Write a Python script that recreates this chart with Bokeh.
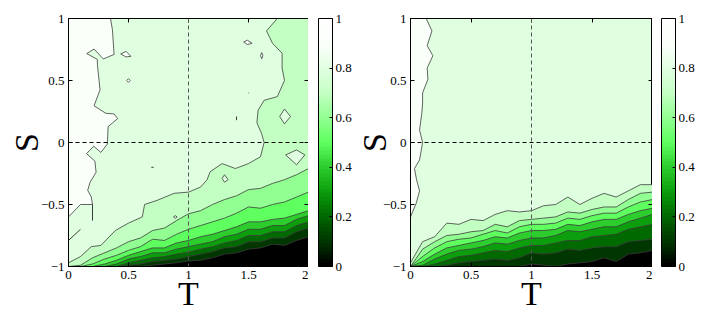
from bokeh.plotting import figure
from bokeh.models import (Range1d, Span, ColorBar, LinearColorMapper, FixedTicker,
                          CustomJSTickFormatter, LinearAxis)
from bokeh.layouts import row
from bokeh.embed import file_html
from bokeh.resources import INLINE

# ---------------- data ----------------
T = [0.0, 0.1, 0.2, 0.3, 0.4, 0.5, 0.6, 0.7, 0.8, 0.9, 1.0,
     1.1, 1.2, 1.3, 1.4, 1.5, 1.6, 1.7, 1.8, 1.9, 2.0]
LEVELS = [0.0, 0.1, 0.2, 0.3, 0.4, 0.5, 0.6, 0.7, 0.8, 0.9, 1.0]
X_TICKS = [0, 0.5, 1, 1.5, 2]
Y_TICKS = [-1, -0.5, 0, 0.5, 1]
CB_TICKS = [0, 0.2, 0.4, 0.6, 0.8, 1]

# Left panel: contour levels 0.1 .. 0.7 (S where the level is crossed, per T)
left_L07 = [-1.00, -0.99, -0.93, -0.89, -0.85, -0.80, -0.77, -0.71, -0.69, -0.63, -0.575,
            -0.55, -0.50, -0.46, -0.43, -0.38, -0.37, -0.33, -0.30, -0.26, -0.21]
left_L06 = [-1.00, -1.00, -0.98, -0.94, -0.91, -0.87, -0.84, -0.78, -0.79, -0.74, -0.70,
            -0.67, -0.64, -0.61, -0.57, -0.52, -0.53, -0.50, -0.48, -0.44, -0.40]
left_L05 = [-1.00, -1.00, -1.00, -0.98, -0.95, -0.91, -0.88, -0.85, -0.85, -0.81, -0.79,
            -0.76, -0.74, -0.71, -0.68, -0.64, -0.64, -0.62, -0.61, -0.58, -0.55]
left_L04 = [-1.00, -1.00, -1.00, -1.00, -0.98, -0.94, -0.92, -0.89, -0.89, -0.86, -0.84,
            -0.82, -0.80, -0.76, -0.74, -0.70, -0.70, -0.67, -0.67, -0.62, -0.59]
left_L03 = [-1.00, -1.00, -1.00, -1.00, -1.00, -0.97, -0.95, -0.93, -0.92, -0.90, -0.885,
            -0.86, -0.84, -0.81, -0.79, -0.75, -0.75, -0.72, -0.72, -0.67, -0.64]
left_L02 = [-1.00, -1.00, -1.00, -1.00, -1.00, -0.99, -0.98, -0.96, -0.95, -0.94, -0.92,
            -0.90, -0.88, -0.85, -0.84, -0.80, -0.80, -0.77, -0.77, -0.72, -0.69]
left_L01 = [-1.00, -1.00, -1.00, -1.00, -1.00, -1.00, -1.00, -0.99, -0.98, -0.97, -0.955,
            -0.95, -0.93, -0.90, -0.89, -0.86, -0.85, -0.82, -0.83, -0.79, -0.76]

# Left panel: 0.8 contour (region below/right of it is < 0.8)
left_c08_T = [0.00, 0.10, 0.19, 0.27, 0.39, 0.50, 0.615, 0.634, 0.74, 0.88, 1.00, 1.10, 1.155,
              1.18, 1.28, 1.39, 1.50, 1.60, 1.63, 1.61, 1.57, 1.58, 1.63, 1.74, 1.80, 1.78,
              1.78, 1.70, 1.65, 1.74]
left_c08_S = [-0.97, -0.92, -0.84, -0.83, -0.71, -0.65, -0.60, -0.50, -0.466, -0.41, -0.40,
              -0.36, -0.30, -0.236, -0.17, -0.21, -0.17, -0.115, 0.00, 0.07, 0.16, 0.26, 0.34,
              0.37, 0.50, 0.60, 0.72, 0.80, 0.90, 1.00]

# Left panel: 0.9 contour (region left of it is > 0.9)
left_c09_T = [0.00, 0.10, 0.20, 0.19, 0.16, 0.18, 0.23, 0.22, 0.15, 0.21, 0.27, 0.324, 0.33,
              0.41, 0.38, 0.31, 0.213, 0.263, 0.241, 0.24, 0.152, 0.213, 0.29, 0.38, 0.366, 0.35]
left_c09_S = [-0.60, -0.50, -0.50, -0.44, -0.385, -0.32, -0.24, -0.15, -0.09, -0.03, -0.08,
              -0.012, 0.128, 0.193, 0.23, 0.236, 0.296, 0.425, 0.628, 0.67, 0.717, 0.754,
              0.674, 0.71, 0.91, 1.00]

# Left panel: small closed contours (islands) and stray contour pieces
island_T = [[1.76, 1.80, 1.85, 1.80], [1.81, 1.90, 1.97, 1.90], [1.28, 1.30, 1.33, 1.30],
            [1.46, 1.49, 1.53, 1.49], [1.60, 1.61, 1.62, 1.61], [0.485, 0.50, 0.515, 0.50],
            [0.435, 0.48, 0.52, 0.48], [0.875, 0.89, 0.905, 0.89]]
island_S = [[0.21, 0.27, 0.21, 0.15], [-0.10, -0.06, -0.10, -0.18], [-0.29, -0.26, -0.30, -0.32],
            [0.81, 0.825, 0.80, 0.79], [0.70, 0.725, 0.70, 0.675], [0.50, 0.515, 0.50, 0.485],
            [0.714, 0.735, 0.695, 0.69], [-0.60, -0.59, -0.60, -0.612]]
island_level = [0.8, 0.8, 0.8, 0.9, 0.9, 0.9, 0.9, 0.8]
stray_T = [[0.20, 0.20], [0.00, 0.10], [1.50, 1.505], [1.40, 1.40], [0.69, 0.71]]
stray_S = [[-0.50, -0.63], [-0.79, -0.70], [0.40, 0.40], [0.18, 0.21], [-0.20, -0.20]]

# Right panel: contour levels 0.1 .. 0.8
right_L08 = [-0.97, -0.80, -0.76, -0.65, -0.66, -0.62, -0.63, -0.58, -0.55, -0.56, -0.55,
             -0.51, -0.50, -0.44, -0.50, -0.45, -0.41, -0.44, -0.39, -0.34, -0.34]
right_L07 = [-1.00, -0.86, -0.80, -0.75, -0.74, -0.72, -0.71, -0.66, -0.68, -0.63, -0.62,
             -0.61, -0.60, -0.56, -0.57, -0.54, -0.52, -0.52, -0.46, -0.41, -0.40]
right_L06 = [-1.00, -0.92, -0.85, -0.80, -0.78, -0.77, -0.74, -0.71, -0.73, -0.68, -0.66,
             -0.66, -0.65, -0.61, -0.62, -0.59, -0.57, -0.57, -0.52, -0.48, -0.46]
right_L05 = [-1.00, -0.96, -0.90, -0.85, -0.83, -0.81, -0.79, -0.76, -0.77, -0.73, -0.71,
             -0.71, -0.70, -0.66, -0.67, -0.64, -0.62, -0.62, -0.58, -0.55, -0.53]
right_L04 = [-1.00, -0.99, -0.94, -0.90, -0.87, -0.86, -0.84, -0.81, -0.82, -0.79, -0.77,
             -0.77, -0.75, -0.71, -0.72, -0.70, -0.68, -0.68, -0.64, -0.61, -0.58]
right_L03 = [-1.00, -1.00, -0.98, -0.95, -0.92, -0.91, -0.89, -0.87, -0.88, -0.85, -0.83,
             -0.83, -0.81, -0.79, -0.79, -0.76, -0.75, -0.74, -0.70, -0.68, -0.66]
right_L02 = [-1.00, -1.00, -1.00, -0.99, -0.97, -0.96, -0.95, -0.94, -0.95, -0.93, -0.89,
             -0.90, -0.89, -0.86, -0.87, -0.85, -0.84, -0.84, -0.80, -0.79, -0.78]
right_L01 = [-1.00, -1.00, -1.00, -1.00, -1.00, -1.00, -1.00, -1.00, -1.00, -1.00, -0.98,
             -0.99, -1.00, -0.98, -0.97, -0.96, -0.93, -0.96, -0.90, -0.89, -0.87]

# Right panel: 0.9 contour (region left of it is > 0.9)
right_c09_S = [-0.60, -0.49, -0.39, -0.30, -0.21, -0.14, 0.00, 0.10, 0.24, 0.32, 0.40,
               0.51, 0.60, 0.70, 0.78, 0.90, 1.00]
right_c09_T = [0.00, 0.047, 0.075, 0.05, 0.033, 0.075, 0.10, 0.075, 0.094, 0.10, 0.10,
               0.144, 0.138, 0.185, 0.138, 0.177, 0.13]

# ---------------- styling ----------------
ANCHORS = [(0, 0, 0), (0, 55, 0), (0, 105, 0), (12, 158, 12), (45, 205, 45), (95, 255, 95),
           (145, 255, 145), (195, 255, 195), (224, 255, 224), (250, 255, 250), (255, 255, 255)]


def hexc(c):
    return "#%02x%02x%02x" % tuple(int(round(v)) for v in c)


BAND = [hexc(c) for c in ANCHORS]  # fill colour of band starting at LEVELS[i]


def interp_palette(n):
    out = []
    for k in range(n):
        v = k / (n - 1) * (len(ANCHORS) - 1)
        i = min(int(v), len(ANCHORS) - 2)
        f = v - i
        a, b = ANCHORS[i], ANCHORS[i + 1]
        out.append(hexc(tuple(a[j] + (b[j] - a[j]) * f for j in range(3))))
    return out


FONT = "Liberation Serif"
LINE_C = "#3c3c3c"
TICK_SIZE = "13px"
LABEL_SIZE = "34px"
FRAME_H = 248
TOP, BOTTOM = 18, 44
FMT_CODE = ("var v = Math.round(tick*100)/100; "
            "return v < 0 ? '\\u2212' + String(-v) : String(v);")


def make_fig(min_left, frame_w):
    p = figure(frame_width=frame_w, frame_height=FRAME_H, x_range=Range1d(0, 2),
               y_range=Range1d(-1, 1),
               output_backend="svg", toolbar_location=None,
               min_border_left=min_left, min_border_top=TOP, min_border_bottom=BOTTOM,
               min_border_right=0, background_fill_color=BAND[8],
               outline_line_color="black", border_fill_color="white")
    p.grid.visible = False
    return p


def style_axes(p, y_standoff):
    p.xaxis.ticker = FixedTicker(ticks=X_TICKS)
    p.yaxis.ticker = FixedTicker(ticks=Y_TICKS)
    for ax in [p.xaxis[0], p.yaxis[0]]:
        ax.formatter = CustomJSTickFormatter(code=FMT_CODE)
        ax.major_label_text_font = FONT
        ax.major_label_text_font_size = TICK_SIZE
        ax.major_label_text_color = "black"
        ax.axis_label_text_font = FONT
        ax.axis_label_text_font_size = LABEL_SIZE
        ax.axis_label_text_font_style = "normal"
        ax.axis_label_text_color = "black"
        ax.major_tick_in = 4
        ax.major_tick_out = 0
        ax.minor_tick_in = 0
        ax.minor_tick_out = 0
        ax.axis_line_color = "black"
        ax.major_tick_line_color = "black"
    p.xaxis.axis_label = "T"
    p.yaxis.axis_label = "S"
    p.xaxis.major_label_standoff = 4
    p.yaxis.major_label_standoff = 4
    p.xaxis.axis_label_standoff = -7
    p.yaxis.axis_label_standoff = y_standoff
    top = LinearAxis(ticker=FixedTicker(ticks=X_TICKS), major_label_text_font_size="0px",
                     major_label_text_color=None,
                     major_tick_in=4, major_tick_out=0, minor_tick_in=0, minor_tick_out=0,
                     major_label_standoff=0, axis_line_color="black")
    right = LinearAxis(ticker=FixedTicker(ticks=Y_TICKS), major_label_text_font_size="0px",
                       major_label_text_color=None,
                       major_tick_in=4, major_tick_out=0, minor_tick_in=0, minor_tick_out=0,
                       major_label_standoff=0, axis_line_color="black")
    p.add_layout(top, "above")
    p.add_layout(right, "right")


def make_colorbar_fig(gap, width):
    f = figure(frame_width=width, frame_height=FRAME_H, output_backend="svg",
               toolbar_location=None, min_border_left=gap, min_border_right=0,
               min_border_top=TOP, min_border_bottom=BOTTOM, outline_line_color=None,
               x_range=Range1d(0, 1), y_range=Range1d(0, 1))
    f.axis.visible = False
    f.grid.visible = False
    mapper = LinearColorMapper(palette=interp_palette(64), low=0, high=1)
    cb = ColorBar(color_mapper=mapper, ticker=FixedTicker(ticks=CB_TICKS),
                  formatter=CustomJSTickFormatter(code=FMT_CODE), width=14, height=FRAME_H,
                  location=(0, 0), padding=0, margin=0, bar_line_color="black",
                  major_tick_line_color="black", major_tick_in=3, minor_tick_line_color=None,
                  major_label_text_font=FONT, major_label_text_font_size=TICK_SIZE,
                  major_label_text_color="black",
                  label_standoff=3, background_fill_color=None, border_line_color=None)
    f.add_layout(cb, "center")
    return f


def add_refs(p):
    p.add_layout(Span(location=1, dimension="height", line_color="#555555",
                      line_dash="4 3", line_width=1))
    p.add_layout(Span(location=0, dimension="width", line_color="black",
                      line_dash="4 3", line_width=1))


# ---------------- left panel ----------------
p1 = make_fig(68, 240)
p1.patch(x=[0.0] + left_c09_T + [0.0], y=[1.0] + left_c09_S + [1.0],
         fill_color=BAND[9], line_color=None)
p1.patch(x=left_c08_T + [2.0, 2.0, 0.0], y=left_c08_S + [1.0, -1.0, -1.0],
         fill_color=BAND[7], line_color=None)
left_levels = [left_L07, left_L06, left_L05, left_L04, left_L03, left_L02, left_L01]
for k, lev in zip([6, 5, 4, 3, 2, 1, 0], left_levels):
    p1.varea(x=T, y1=-1.0, y2=lev, fill_color=BAND[k])
for lev in left_levels:
    p1.line(x=T, y=lev, line_color=LINE_C, line_width=0.8)
p1.line(x=left_c08_T, y=left_c08_S, line_color=LINE_C, line_width=0.8)
p1.line(x=left_c09_T, y=left_c09_S, line_color=LINE_C, line_width=0.8)
p1.patches(xs=island_T, ys=island_S,
           fill_color=[BAND[int(round(l * 10))] for l in island_level],
           line_color=LINE_C, line_width=0.8)
p1.multi_line(xs=stray_T, ys=stray_S, line_color=LINE_C, line_width=1.0)
add_refs(p1)
style_axes(p1, -7)
cb1 = make_colorbar_fig(10, 34)

# ---------------- right panel ----------------
p2 = make_fig(57, 242)
p2.patch(x=[0.0] + right_c09_T + [0.0], y=[1.0] + right_c09_S + [1.0],
         fill_color=BAND[9], line_color=None)
right_levels = [right_L08, right_L07, right_L06, right_L05, right_L04, right_L03,
                right_L02, right_L01]
for k, lev in zip([7, 6, 5, 4, 3, 2, 1, 0], right_levels):
    p2.varea(x=T, y1=-1.0, y2=lev, fill_color=BAND[k])
for lev in right_levels:
    p2.line(x=T, y=lev, line_color=LINE_C, line_width=0.8)
p2.line(x=right_c09_T, y=right_c09_S, line_color=LINE_C, line_width=0.8)
add_refs(p2)
style_axes(p2, -13)
cb2 = make_colorbar_fig(9, 34)

layout = row(p1, cb1, p2, cb2)
open("out.html", "w").write(file_html(layout, INLINE))
